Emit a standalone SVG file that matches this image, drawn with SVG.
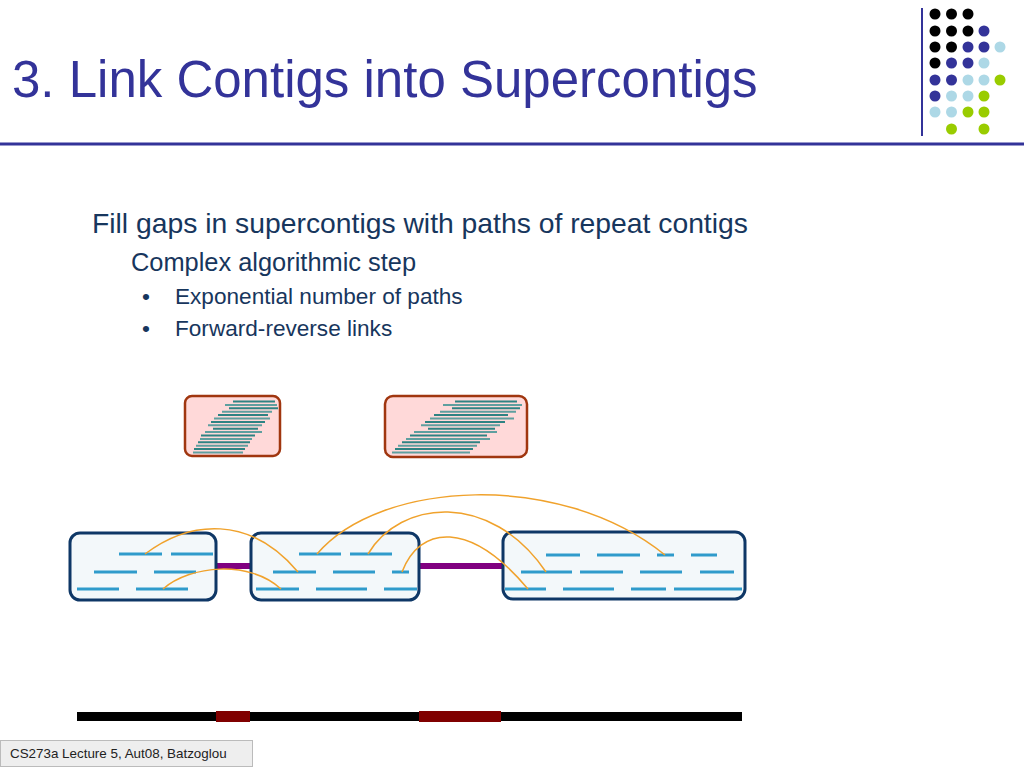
<svg xmlns="http://www.w3.org/2000/svg" width="1024" height="768" viewBox="0 0 1024 768">
<style>
.title{font-family:"Liberation Sans",Arial,sans-serif;font-size:51px;fill:#333399}
.t1{font-family:"Liberation Sans",Arial,sans-serif;font-size:28.3px;fill:#17365D}
.t2{font-family:"Liberation Sans",Arial,sans-serif;font-size:25.4px;fill:#17365D}
.t3{font-family:"Liberation Sans",Arial,sans-serif;font-size:22.6px;fill:#17365D}
.foot{font-family:"Liberation Sans",Arial,sans-serif;font-size:13.4px;fill:#222}
.k{fill:#000}.b{fill:#333399}.l{fill:#ADD8E6}.g{fill:#99CC00}
.rep{fill:#FFD9D9;stroke:#A0360F;stroke-width:2.5}
.rd{stroke:#2E8383;stroke-width:2}
.rl{stroke:#5E9F9F;stroke-width:2}
.ctg{fill:#F3F8FA;stroke:#0E3766;stroke-width:3}
.dash{stroke:#2F9BCB;stroke-width:3}
.arc{fill:none;stroke:#F0A22C;stroke-width:1.5}
.link{stroke:#800080;stroke-width:6}
</style>
<rect width="1024" height="768" fill="#fff"/>
<g id="header">
<text class="title" x="12" y="97">3. Link Contigs into Supercontigs</text>
<line x1="0" y1="144" x2="1024" y2="144" stroke="#333399" stroke-width="3"/>
<line x1="922" y1="8" x2="922" y2="136" stroke="#333399" stroke-width="2"/>
</g>
<g id="dots">
<circle class="k" cx="935" cy="14" r="5.5"/><circle class="k" cx="951.5" cy="14" r="5.5"/><circle class="k" cx="968" cy="14" r="5.5"/>
<circle class="k" cx="935" cy="31" r="5.5"/><circle class="k" cx="951.5" cy="31" r="5.5"/><circle class="k" cx="968" cy="31" r="5.5"/><circle class="b" cx="984" cy="31" r="5.5"/>
<circle class="k" cx="935" cy="47" r="5.5"/><circle class="k" cx="951.5" cy="47" r="5.5"/><circle class="b" cx="968" cy="47" r="5.5"/><circle class="b" cx="984" cy="47" r="5.5"/><circle class="l" cx="1000" cy="47" r="5.5"/>
<circle class="k" cx="935" cy="63" r="5.5"/><circle class="b" cx="951.5" cy="63" r="5.5"/><circle class="b" cx="968" cy="63" r="5.5"/><circle class="l" cx="984" cy="63" r="5.5"/>
<circle class="b" cx="935" cy="80" r="5.5"/><circle class="b" cx="951.5" cy="80" r="5.5"/><circle class="l" cx="968" cy="80" r="5.5"/><circle class="l" cx="984" cy="80" r="5.5"/><circle class="g" cx="1000" cy="80" r="5.5"/>
<circle class="b" cx="935" cy="96" r="5.5"/><circle class="l" cx="951.5" cy="96" r="5.5"/><circle class="l" cx="968" cy="96" r="5.5"/><circle class="g" cx="984" cy="96" r="5.5"/>
<circle class="l" cx="935" cy="112" r="5.5"/><circle class="l" cx="951.5" cy="112" r="5.5"/><circle class="g" cx="968" cy="112" r="5.5"/><circle class="g" cx="984" cy="112" r="5.5"/>
<circle class="g" cx="951.5" cy="129" r="5.5"/><circle class="g" cx="984" cy="129" r="5.5"/>
</g>
<g id="bullets">
<text class="t1" x="92" y="233">Fill gaps in supercontigs with paths of repeat contigs</text>
<text class="t2" x="131" y="271">Complex algorithmic step</text>
<text class="t3" x="142" y="304">•</text>
<text class="t3" x="175" y="304">Exponential number of paths</text>
<text class="t3" x="142" y="336">•</text>
<text class="t3" x="175" y="336">Forward-reverse links</text>
</g>
<g id="repeat1">
<rect class="rep" x="185" y="396" width="95" height="60" rx="7"/>
<line class="rd" x1="233" y1="401.5" x2="275" y2="401.5"/>
<line class="rl" x1="225" y1="405" x2="277" y2="405"/>
<line class="rd" x1="229" y1="408.3" x2="278" y2="408.3"/>
<line class="rl" x1="222" y1="411.7" x2="272" y2="411.7"/>
<line class="rd" x1="218" y1="415" x2="268" y2="415"/>
<line class="rl" x1="214" y1="418.5" x2="270" y2="418.5"/>
<line class="rd" x1="211" y1="422" x2="265" y2="422"/>
<line class="rl" x1="208" y1="425.3" x2="262" y2="425.3"/>
<line class="rd" x1="213" y1="428.7" x2="258" y2="428.7"/>
<line class="rl" x1="205" y1="432" x2="262" y2="432"/>
<line class="rd" x1="201" y1="435.5" x2="255" y2="435.5"/>
<line class="rl" x1="200" y1="439" x2="252" y2="439"/>
<line class="rd" x1="198" y1="442.3" x2="250" y2="442.3"/>
<line class="rl" x1="196" y1="445.7" x2="248" y2="445.7"/>
<line class="rd" x1="194" y1="449" x2="245" y2="449"/>
<line class="rl" x1="193" y1="452.5" x2="243" y2="452.5"/>
</g>
<g id="repeat2">
<rect class="rep" x="385" y="396" width="142" height="61" rx="8"/>
<line class="rd" x1="455" y1="401.5" x2="517" y2="401.5"/>
<line class="rl" x1="443" y1="405" x2="522" y2="405"/>
<line class="rd" x1="452" y1="408.3" x2="520" y2="408.3"/>
<line class="rl" x1="440" y1="411.7" x2="516" y2="411.7"/>
<line class="rd" x1="434" y1="415" x2="508" y2="415"/>
<line class="rl" x1="430" y1="418.5" x2="514" y2="418.5"/>
<line class="rd" x1="425" y1="422" x2="505" y2="422"/>
<line class="rl" x1="421" y1="425.3" x2="500" y2="425.3"/>
<line class="rd" x1="428" y1="428.7" x2="495" y2="428.7"/>
<line class="rl" x1="414" y1="432" x2="497" y2="432"/>
<line class="rd" x1="410" y1="435.5" x2="487" y2="435.5"/>
<line class="rl" x1="406" y1="439" x2="490" y2="439"/>
<line class="rd" x1="402" y1="442.3" x2="480" y2="442.3"/>
<line class="rl" x1="398" y1="445.7" x2="477" y2="445.7"/>
<line class="rd" x1="395" y1="449" x2="473" y2="449"/>
<line class="rl" x1="392" y1="452.5" x2="470" y2="452.5"/>
</g>
<g id="links">
<line class="link" x1="216" y1="566" x2="251" y2="566"/>
<line class="link" x1="419" y1="566" x2="503" y2="566"/>
</g>
<g id="contig1">
<rect class="ctg" x="70" y="533" width="146" height="67" rx="10"/>
<line class="dash" x1="119" y1="554" x2="162" y2="554"/><line class="dash" x1="171" y1="554" x2="213" y2="554"/>
<line class="dash" x1="94" y1="572" x2="137" y2="572"/><line class="dash" x1="154" y1="572" x2="196" y2="572"/>
<line class="dash" x1="77" y1="589" x2="119" y2="589"/><line class="dash" x1="136" y1="589" x2="188" y2="589"/>
</g>
<g id="contig2">
<rect class="ctg" x="251" y="533" width="168" height="67" rx="10"/>
<line class="dash" x1="299" y1="554" x2="341" y2="554"/><line class="dash" x1="350" y1="554" x2="392" y2="554"/>
<line class="dash" x1="273" y1="572" x2="316" y2="572"/><line class="dash" x1="333" y1="572" x2="375" y2="572"/><line class="dash" x1="392" y1="572" x2="409" y2="572"/>
<line class="dash" x1="256" y1="589" x2="299" y2="589"/><line class="dash" x1="316" y1="589" x2="367" y2="589"/><line class="dash" x1="384" y1="589" x2="417" y2="589"/>
</g>
<g id="contig3">
<rect class="ctg" x="503" y="532" width="242" height="67" rx="10"/>
<line class="dash" x1="546" y1="555" x2="580" y2="555"/><line class="dash" x1="597" y1="555" x2="640" y2="555"/><line class="dash" x1="657" y1="555" x2="674" y2="555"/><line class="dash" x1="691" y1="555" x2="717" y2="555"/>
<line class="dash" x1="521" y1="572" x2="572" y2="572"/><line class="dash" x1="580" y1="572" x2="623" y2="572"/><line class="dash" x1="640" y1="572" x2="682" y2="572"/><line class="dash" x1="700" y1="572" x2="734" y2="572"/>
<line class="dash" x1="505" y1="589" x2="546" y2="589"/><line class="dash" x1="563" y1="589" x2="614" y2="589"/><line class="dash" x1="631" y1="589" x2="666" y2="589"/><line class="dash" x1="674" y1="589" x2="742" y2="589"/>
</g>
<g id="connectors">
<path class="arc" d="M145,554 C190,520 250,515 298,572"/>
<path class="arc" d="M163,589 C190,565 250,560 281,589"/>
<path class="arc" d="M317,554 C380,480 560,470 665,555"/>
<path class="arc" d="M368,554 C400,500 490,490 546,572"/>
<path class="arc" d="M402,572 C420,525 470,520 528,589"/>
</g>
<g id="genome">
<line x1="77" y1="716.5" x2="742" y2="716.5" stroke="#000" stroke-width="9"/>
<rect x="216" y="711" width="34" height="11" fill="#800000"/>
<rect x="419" y="711" width="82" height="11" fill="#800000"/>
</g>
<g id="footer">
<rect x="0.5" y="740.5" width="252" height="26" fill="#EEEEEE" stroke="#BBBBBB" stroke-width="1"/>
<text class="foot" x="10" y="758">CS273a Lecture 5, Aut08, Batzoglou</text>
</g>
</svg>
